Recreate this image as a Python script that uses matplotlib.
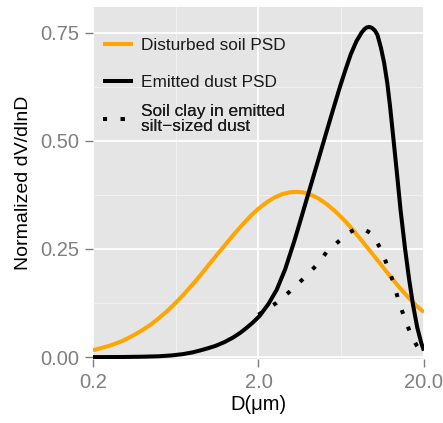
import matplotlib
matplotlib.use("Agg")
import matplotlib.pyplot as plt
from matplotlib.lines import Line2D
from matplotlib.ticker import FixedLocator, NullFormatter

plt.rcParams['font.family'] = ['Liberation Sans', 'DejaVu Sans']

# disturbed soil PSD (orange)
soil_d = [0.2, 0.25, 0.3, 0.35, 0.4, 0.45, 0.5, 0.56, 0.63, 0.7, 0.8, 0.9, 1.0,
          1.12, 1.25, 1.4, 1.6, 1.8, 2.0, 2.25, 2.5, 2.8, 3.1, 3.37, 3.7, 4.1, 4.6,
          5.2, 5.9, 6.7, 7.6, 8.6, 9.8, 11.1, 12.6, 14.3, 16.2, 18.1, 20]
soil_v = [0.016, 0.026, 0.037, 0.050, 0.063, 0.076, 0.090, 0.106, 0.125, 0.143,
          0.168, 0.191, 0.213, 0.236, 0.258, 0.281, 0.306, 0.327, 0.343, 0.358,
          0.369, 0.377, 0.381, 0.382, 0.381, 0.376, 0.367, 0.353, 0.335, 0.314,
          0.290, 0.265, 0.238, 0.212, 0.185, 0.160, 0.137, 0.118, 0.104]

# emitted dust PSD (black)
dust_d = [0.2, 0.3, 0.4, 0.5, 0.6, 0.7, 0.8, 0.88, 1.0, 1.1, 1.25, 1.4, 1.55, 1.7,
          1.85, 2.03, 2.3, 2.58, 2.9, 3.3, 3.66, 4.15, 4.6, 5.07, 5.6, 6.21, 6.7,
          7.23, 7.82, 8.4, 8.75, 9.04, 9.35, 9.7, 10.1, 10.47, 11.0, 11.5, 12.02,
          12.5, 13.0, 13.8, 14.45, 15.37, 16.25, 17.2, 18.24, 19.3, 20]
dust_v = [0.0, 0.0003, 0.001, 0.002, 0.004, 0.007, 0.011, 0.015, 0.021, 0.026,
          0.035, 0.045, 0.056, 0.068, 0.080, 0.095, 0.123, 0.156, 0.203, 0.269,
          0.327, 0.398, 0.456, 0.511, 0.567, 0.624, 0.663, 0.700, 0.730, 0.750,
          0.758, 0.762, 0.763, 0.761, 0.755, 0.745, 0.715, 0.680, 0.633, 0.578,
          0.515, 0.418, 0.340, 0.252, 0.182, 0.120, 0.068, 0.032, 0.015]

# soil clay in emitted silt-sized dust (dotted)
clay_d = [2.0, 2.56, 3.1, 3.73, 4.45, 5.2, 6.3, 7.0, 7.74, 8.5, 9.67, 11.06, 12.1,
          13.2, 14.1, 15.37, 16.8, 18.2, 19.1, 20]
clay_v = [0.098, 0.125, 0.152, 0.181, 0.211, 0.244, 0.272, 0.287, 0.296, 0.298,
          0.285, 0.248, 0.208, 0.169, 0.128, 0.088, 0.049, 0.025, 0.013, 0.004]

labels = ['Disturbed soil PSD', 'Emitted dust PSD', 'Soil clay in emitted\nsilt\u2212sized dust']
x_ticks = [0.2, 2.0, 20.0]
x_ticklabels = ['0.2', '2.0', '20.0']
y_ticks = [0.0, 0.25, 0.5, 0.75]
y_ticklabels = ['0.00', '0.25', '0.50', '0.75']

dotted = (0, (1, 3.4))

fig = plt.figure(figsize=(4.43, 4.23), dpi=100)
ax = fig.add_axes([0.2099, 0.1506, 0.747, 0.8327])
ax.set_facecolor('#E5E5E5')

ax.plot(soil_d, soil_v, color='#FFA500', lw=2.9,
        solid_capstyle='butt', solid_joinstyle='round')
ax.plot(dust_d, dust_v, color='black', lw=2.9,
        solid_capstyle='butt', solid_joinstyle='round')
ax.plot(clay_d, clay_v, color='black', lw=2.9, ls=dotted, dash_capstyle='butt')

ax.set_xscale('log')
ax.set_xlim(0.2, 20)
ax.set_ylim(-0.005, 0.809)

ax.xaxis.set_major_locator(FixedLocator(x_ticks))
ax.xaxis.set_minor_locator(FixedLocator([0.6325, 6.325]))
ax.xaxis.set_minor_formatter(NullFormatter())
ax.set_xticklabels(x_ticklabels)
ax.yaxis.set_major_locator(FixedLocator(y_ticks))
ax.yaxis.set_minor_locator(FixedLocator([0.125, 0.375, 0.625]))
ax.set_yticklabels(y_ticklabels)

ax.grid(True, which='major', color='white', lw=1.3)
ax.grid(True, which='minor', color='#F2F2F2', lw=0.7)
ax.set_axisbelow(True)
for s in ax.spines.values():
    s.set_visible(False)

ax.tick_params(which='major', length=6, width=1, color='#7F7F7F',
               labelcolor='#7F7F7F', labelsize=14.5, pad=4)
ax.tick_params(which='minor', length=0)

ax.set_xlabel('D(\u03bcm)', fontsize=14.5, labelpad=2)
ax.set_ylabel('Normalized dV/dlnD', fontsize=14, labelpad=6)

# legend: one entry per key so every row gets the same height, like ggplot
handles = [Line2D([], [], color='#FFA500', lw=2.9, solid_capstyle='butt'),
           Line2D([], [], color='black', lw=2.9, solid_capstyle='butt'),
           Line2D([], [], color='black', lw=2.9, ls=dotted, dash_capstyle='butt')]
row_y = [0.892, 0.787, 0.682]
for h, lab, y in zip(handles, labels, row_y):
    leg = ax.legend([h], [lab], loc='center left', bbox_to_anchor=(0.03, y),
                    frameon=False, fontsize=12.4, handlelength=1.75,
                    handletextpad=0.45, borderpad=0, borderaxespad=0)
    for t in leg.get_texts():
        t.set_color('#1A1A1A')
        t.set_linespacing(1.0)
    ax.add_artist(leg)

fig.savefig('out.png', dpi=100)
